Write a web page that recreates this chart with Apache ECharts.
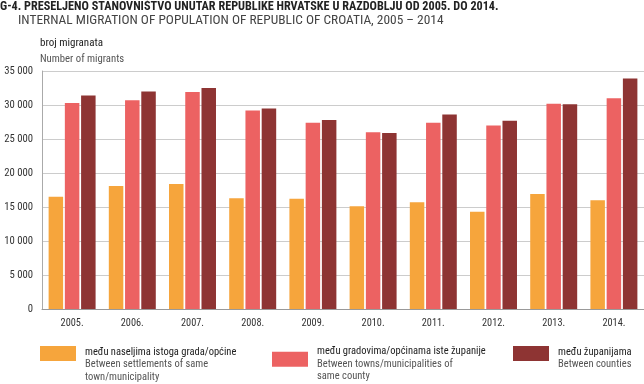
<!DOCTYPE html>
<html>
<head>
<meta charset="utf-8">
<script src="https://cdn.jsdelivr.net/npm/echarts@6/dist/echarts.min.js"></script>
<style>
html,body{margin:0;padding:0;background:#fff;}
#c{width:644px;height:384px;}
</style>
</head>
<body>
<div id="c"></div>
<script>
var categories = ['2005.', '2006.', '2007.', '2008.', '2009.', '2010.', '2011.', '2012.', '2013.', '2014.'];
var withinTown = [16500, 18100, 18400, 16300, 16200, 15100, 15700, 14300, 16900, 16000];
var withinCounty = [30300, 30700, 31900, 29200, 27400, 26000, 27400, 27000, 30200, 31000];
var betweenCounties = [31400, 32000, 32500, 29500, 27800, 25900, 28600, 27700, 30100, 33900];
var seriesNames = [
  'među naseljima istoga grada/općine',
  'među gradovima/općinama iste županije',
  'među županijama'
];
var seriesNamesEn = [
  'Between settlements of same\ntown/municipality',
  'Between towns/municipalities of\nsame county',
  'Between counties'
];
var yTicks = { min: 0, max: 35000, interval: 5000 };

var FONT = '"Roboto Condensed", "Open Sans", sans-serif';
var colors = ['#F6A53C', '#EC6262', '#8E3433'];

function fmt(v) {
  var s = String(v);
  return s.length > 3 ? s.slice(0, s.length - 3) + ' ' + s.slice(-3) : s;
}

function makeLegend(i, left, top, pad) {
  return {
    left: left, top: top, padding: 0,
    itemWidth: 36, itemHeight: 15,
    itemGap: 0,
    selectedMode: false,
    icon: 'rect',
    data: [seriesNames[i]],
    formatter: function (name) {
      return '{a|' + name + '}\n' + seriesNamesEn[i].split('\n').map(function (l) { return '{b|' + l + '}'; }).join('\n');
    },
    textStyle: {
      padding: [pad, 0, 0, 4],
      rich: {
        a: { fontFamily: FONT, fontSize: 10.5, color: '#222', lineHeight: 12.5 },
        b: { fontFamily: FONT, fontSize: 10.5, color: '#555', lineHeight: 12.5 }
      }
    }
  };
}

var chart = echarts.init(document.getElementById('c'), null, { renderer: 'canvas' });
chart.setOption({
  animation: false,
  backgroundColor: '#fff',
  color: colors,
  title: [
    { text: 'G-4. PRESELJENO STANOVNIŠTVO UNUTAR REPUBLIKE HRVATSKE U RAZDOBLJU OD 2005. DO 2014.',
      left: 0, top: 1, padding: 0,
      textStyle: { fontFamily: FONT, fontSize: 12.2, fontWeight: 'bold', color: '#222' } },
    { text: 'INTERNAL MIGRATION OF POPULATION OF REPUBLIC OF CROATIA, 2005 – 2014',
      left: 18, top: 14, padding: 0,
      textStyle: { fontFamily: FONT, fontSize: 13.4, fontWeight: 'normal', color: '#444' } },
    { text: 'broj migranata',
      left: 40, top: 38, padding: 0,
      textStyle: { fontFamily: FONT, fontSize: 11, fontWeight: 'normal', color: '#222' } },
    { text: 'Number of migrants',
      left: 40, top: 54, padding: 0,
      textStyle: { fontFamily: FONT, fontSize: 10.7, fontWeight: 'normal', color: '#555' } }
  ],
  legend: [
    makeLegend(0, 40, 346, 22),
    makeLegend(1, 272, 346, 9.5),
    makeLegend(2, 513, 346, 9.5)
  ],
  grid: { left: 42, right: 0, top: 71, bottom: 75, containLabel: false },
  xAxis: {
    type: 'category',
    data: categories,
    axisLine: { show: true, lineStyle: { color: '#999', width: 1 } },
    axisTick: { show: false },
    axisLabel: { fontFamily: FONT, fontSize: 10.3, color: '#333', margin: 9.5 }
  },
  yAxis: {
    type: 'value',
    min: yTicks.min, max: yTicks.max, interval: yTicks.interval,
    axisLine: { show: true, lineStyle: { color: '#aaa', width: 1 } },
    axisTick: { show: false },
    splitLine: { show: true, lineStyle: { color: '#ccc', width: 1 } },
    axisLabel: { fontFamily: FONT, fontSize: 10.7, color: '#333', margin: 9, formatter: fmt }
  },
  series: [
    { name: seriesNames[0], type: 'bar', data: withinTown, barWidth: 14.5, barGap: '12%' },
    { name: seriesNames[1], type: 'bar', data: withinCounty, barWidth: 14.5, barGap: '12%' },
    { name: seriesNames[2], type: 'bar', data: betweenCounties, barWidth: 14.5, barGap: '12%' }
  ]
});
</script>
</body>
</html>
